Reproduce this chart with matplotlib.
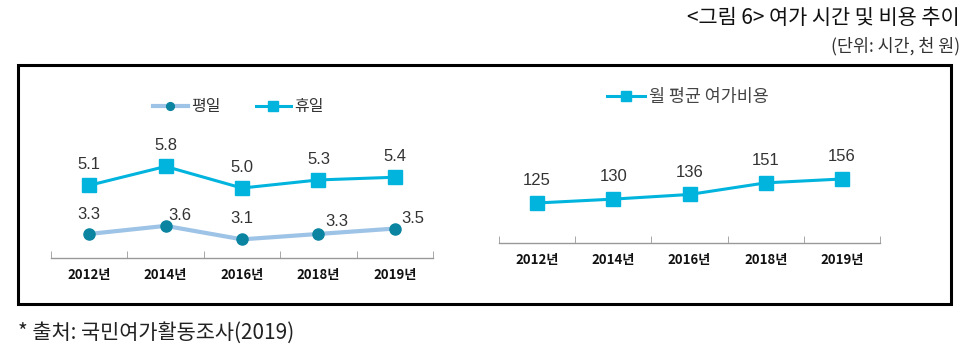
import matplotlib.pyplot as plt
from matplotlib.patches import Rectangle

plt.rcParams['font.family'] = ['Noto Sans CJK KR', 'DejaVu Sans']

years = ['2012년', '2014년', '2016년', '2018년', '2019년']
weekday = [3.3, 3.6, 3.1, 3.3, 3.5]
holiday = [5.1, 5.8, 5.0, 5.3, 5.4]
cost = [125, 130, 136, 151, 156]

CYAN = '#00B4DE'
TEAL = '#0A84A0'
PALE = '#9DC3E6'
LABEL = '#333333'

W, H = 972, 352
fig = plt.figure(figsize=(W / 100, H / 100), dpi=100)


def px_axes(x0, y0, x1, y1):
	return fig.add_axes([x0 / W, 1 - y1 / H, (x1 - x0) / W, (y1 - y0) / H])


def style_axis(ax):
	for s in ['top', 'right', 'left']:
		ax.spines[s].set_visible(False)
	ax.spines['bottom'].set_color('#999999')
	ax.spines['bottom'].set_linewidth(1.0)
	ax.set_yticks([])
	ax.set_xlim(-0.5, len(years) - 0.5)
	ax.set_xticks([i - 0.5 for i in range(len(years) + 1)], minor=True)
	ax.set_xticks(range(len(years)))
	ax.set_xticklabels(years, fontsize=9.5, fontweight='bold', color='#111111')
	ax.tick_params(axis='x', which='major', length=0, pad=7)
	ax.tick_params(axis='x', which='minor', length=5, color='#999999', direction='in')
	ax.patch.set_visible(False)


def label(ax, txt, xy, off):
	ax.annotate(txt, xy, xytext=off, textcoords='offset points', ha='center', va='center',
		fontsize=12, color=LABEL, family='Liberation Sans')


x = range(len(years))

# left: hours
ax1 = px_axes(51, 90, 433, 258)
ax1.plot(x, weekday, color=PALE, lw=3, marker='o', ms=8, mfc=TEAL, mec=TEAL, label='평일')
ax1.plot(x, holiday, color=CYAN, lw=2.2, marker='s', ms=9.5, mfc=CYAN, mec=CYAN, label='휴일')
ax1.set_ylim(2.41, 8.63)
style_axis(ax1)

wk_off = [(0, 14), (10.5, 7.5), (0, 15), (13.5, 9), (13, 7)]
for i, v in enumerate(weekday):
	label(ax1, f'{v:.1f}', (i, v), wk_off[i])
for i, v in enumerate(holiday):
	label(ax1, f'{v:.1f}', (i, v), (0, 15))
ax1.legend(loc='center', bbox_to_anchor=(238 / W, 1 - 107 / H), bbox_transform=fig.transFigure,
	ncol=2, frameon=False, fontsize=11.5, handlelength=2.2, columnspacing=2.2, handletextpad=0.2,
	markerscale=0.7, labelcolor='#333333')

# right: cost
ax2 = px_axes(499, 80, 880, 243)
ax2.plot(x, cost, color=CYAN, lw=2.2, marker='s', ms=9.5, mfc=CYAN, mec=CYAN, label='월 평균 여가비용')
ax2.set_ylim(73.3, 283.9)
style_axis(ax2)
for i, v in enumerate(cost):
	label(ax2, f'{v}', (i, v), (0, 16))
ax2.legend(loc='center', bbox_to_anchor=(688 / W, 1 - 97 / H), bbox_transform=fig.transFigure,
	frameon=False, fontsize=12.5, handlelength=2.2, handletextpad=0.2, markerscale=0.7,
	labelcolor='#444444')

# frame box
fig.patches.append(Rectangle((18 / W, 1 - 304 / H), (951 - 18) / W, (304 - 65) / H,
	transform=fig.transFigure, fill=False, lw=2.2, ec='black'))

fig.text(960 / W, 1 - 18 / H, '<그림 6> 여가 시간 및 비용 추이', ha='right', va='center',
	fontsize=15, color='#111111')
fig.text(960 / W, 1 - 46 / H, '(단위: 시간, 천 원)', ha='right', va='center',
	fontsize=12.5, color='#333333')
fig.text(18 / W, 1 - 333 / H, '* 출처: 국민여가활동조사(2019)', ha='left', va='center',
	fontsize=15, color='#222222')

fig.savefig('out.png', dpi=100)
